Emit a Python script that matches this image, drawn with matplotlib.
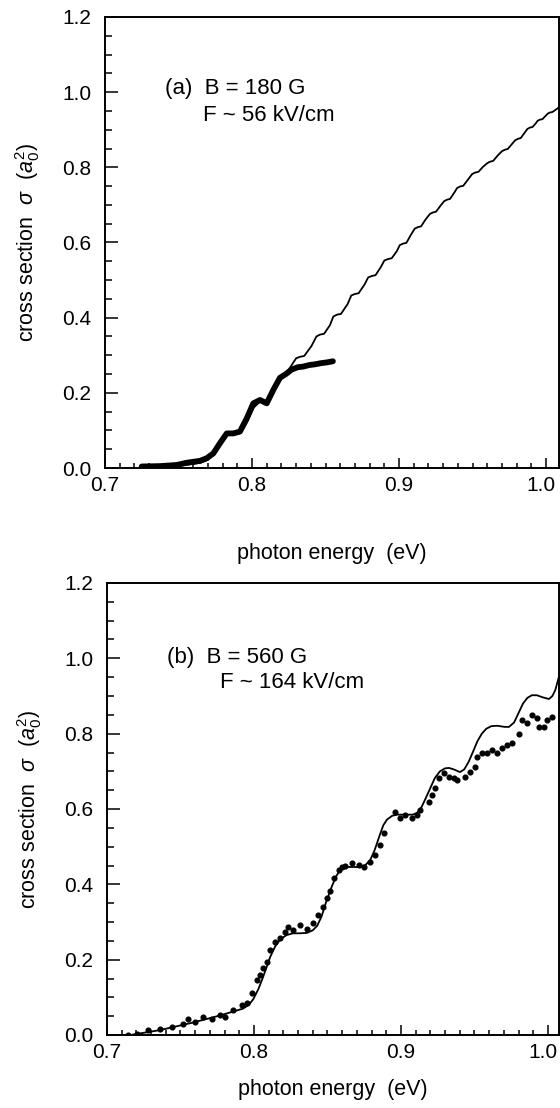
import matplotlib
matplotlib.use("Agg")
import matplotlib.pyplot as plt
import matplotlib.transforms as mtransforms
from matplotlib.ticker import MultipleLocator, FormatStrFormatter

plt.rcParams['font.family'] = ['Liberation Sans', 'DejaVu Sans']
plt.rcParams['mathtext.fontset'] = 'custom'
plt.rcParams['mathtext.rm'] = 'Liberation Sans'
plt.rcParams['mathtext.it'] = 'Liberation Sans:italic'

# ---------------- panel (a) ----------------
theory_a_x = [0.725, 0.740, 0.755, 0.765, 0.770, 0.775, 0.780, 0.784, 0.789, 0.793,
              0.797, 0.801, 0.805, 0.809, 0.813, 0.817, 0.821, 0.825,
              0.830, 0.8327, 0.8355, 0.8405,
              0.8438, 0.8463, 0.849, 0.853,
              0.8553, 0.8578, 0.8605, 0.865,
              0.8675, 0.870, 0.8725, 0.8765,
              0.879, 0.8816, 0.884, 0.8875,
              0.890, 0.8925, 0.895, 0.8985,
              0.9005, 0.9027, 0.905, 0.908,
              0.9107, 0.9129, 0.915, 0.918,
              0.921, 0.9231, 0.9252, 0.928,
              0.9307, 0.9327, 0.9347, 0.9373,
              0.9395, 0.9415, 0.9437, 0.947,
              0.9497, 0.9517, 0.954, 0.957,
              0.960, 0.9619, 0.964, 0.967,
              0.970, 0.9721, 0.974, 0.9768,
              0.979, 0.981, 0.9828, 0.9852,
              0.9873, 0.9891, 0.9907, 0.9928,
              0.9943, 0.9959, 0.9975, 0.9997,
              1.0012, 1.0027, 1.0042, 1.0065, 1.0095]
theory_a_y = [0.001, 0.003, 0.008, 0.014, 0.022, 0.045, 0.075, 0.090, 0.094, 0.098,
              0.125, 0.160, 0.175, 0.178, 0.190, 0.220, 0.245, 0.262,
              0.292, 0.296, 0.298, 0.325,
              0.350, 0.355, 0.357, 0.380,
              0.403, 0.408, 0.410, 0.436,
              0.459, 0.463, 0.465, 0.488,
              0.507, 0.511, 0.513, 0.534,
              0.552, 0.556, 0.558, 0.577,
              0.593, 0.597, 0.599, 0.620,
              0.637, 0.641, 0.643, 0.661,
              0.676, 0.680, 0.682, 0.697,
              0.710, 0.714, 0.716, 0.731,
              0.745, 0.749, 0.751, 0.768,
              0.782, 0.786, 0.788, 0.801,
              0.811, 0.815, 0.817, 0.831,
              0.843, 0.847, 0.849, 0.862,
              0.872, 0.876, 0.878, 0.891,
              0.902, 0.906, 0.907, 0.916,
              0.924, 0.927, 0.928, 0.937,
              0.943, 0.946, 0.947, 0.953, 0.962]

data_a_x = [0.725, 0.7374, 0.7488, 0.7556, 0.7646, 0.7692, 0.7737, 0.7782, 0.7828, 0.7873,
            0.7918, 0.7964, 0.8009, 0.8054, 0.810, 0.8145, 0.819, 0.823, 0.827, 0.831,
            0.835, 0.839, 0.843, 0.847, 0.851, 0.855]
data_a_y = [0.004, 0.005, 0.008, 0.014, 0.019, 0.026, 0.039, 0.066, 0.092, 0.092,
            0.097, 0.132, 0.172, 0.181, 0.172, 0.208, 0.240, 0.250, 0.262, 0.268,
            0.270, 0.274, 0.276, 0.279, 0.281, 0.284]

# ---------------- panel (b) ----------------
theory_b_x = [0.716, 0.736, 0.7585, 0.777, 0.7925, 0.7965, 0.7995, 0.803, 0.806, 0.811,
              0.8145, 0.818, 0.822, 0.8265, 0.831, 0.836, 0.840, 0.843, 0.846, 0.849,
              0.853, 0.856, 0.859, 0.863, 0.8667, 0.8721, 0.876, 0.879, 0.882, 0.8855,
              0.888, 0.8905, 0.894, 0.8973, 0.903, 0.908, 0.911, 0.914, 0.917, 0.920,
              0.923, 0.9265, 0.930, 0.9327, 0.936, 0.9401, 0.943, 0.946, 0.949, 0.952,
              0.955, 0.958, 0.9615, 0.9655, 0.9705, 0.9735, 0.977, 0.980, 0.983, 0.986,
              0.989, 0.9925, 0.996, 1.0007, 1.003, 1.005, 1.0075]
theory_b_y = [0.0, 0.013, 0.033, 0.052, 0.070, 0.080, 0.095, 0.122, 0.152, 0.207,
              0.236, 0.254, 0.265, 0.270, 0.270, 0.271, 0.278, 0.290, 0.315, 0.352,
              0.395, 0.422, 0.440, 0.446, 0.446, 0.446, 0.452, 0.464, 0.490, 0.530,
              0.557, 0.572, 0.582, 0.585, 0.585, 0.585, 0.590, 0.605, 0.630, 0.656,
              0.682, 0.700, 0.708, 0.709, 0.705, 0.698, 0.705, 0.725, 0.752, 0.780,
              0.800, 0.813, 0.820, 0.821, 0.818, 0.818, 0.830, 0.855, 0.880, 0.895,
              0.902, 0.902, 0.897, 0.892, 0.900, 0.916, 0.952]

data_b_x = [0.714, 0.7201, 0.7281, 0.7361, 0.744, 0.7519, 0.7553, 0.7599, 0.7655, 0.7712,
            0.777, 0.7803, 0.786, 0.7917, 0.7951, 0.7985, 0.8019, 0.8041, 0.8063, 0.8086,
            0.8109, 0.8143, 0.8177, 0.8211, 0.8234, 0.8268, 0.8313, 0.8358, 0.8404, 0.8438,
            0.8472, 0.8494, 0.8517, 0.8541, 0.8576, 0.8599, 0.862, 0.8667, 0.8712, 0.8747,
            0.8790, 0.8825, 0.886, 0.8882, 0.8961, 0.8995, 0.903, 0.9075, 0.9109, 0.9132,
            0.9188, 0.9211, 0.9234, 0.9256, 0.929, 0.9324, 0.9358, 0.9381, 0.9437, 0.9471,
            0.9505, 0.9517, 0.955, 0.9585, 0.9619, 0.9653, 0.9687, 0.9721, 0.9755, 0.980,
            0.9823, 0.9857, 0.9891, 0.9925, 0.9937, 0.997, 0.9993, 1.0027]
data_b_y = [0.0, 0.003, 0.013, 0.015, 0.022, 0.029, 0.042, 0.035, 0.047, 0.042,
            0.053, 0.047, 0.066, 0.080, 0.086, 0.111, 0.146, 0.159, 0.177, 0.195,
            0.226, 0.248, 0.257, 0.274, 0.288, 0.279, 0.292, 0.281, 0.297, 0.319,
            0.341, 0.363, 0.381, 0.416, 0.438, 0.447, 0.449, 0.457, 0.451, 0.446,
            0.460, 0.478, 0.504, 0.535, 0.593, 0.575, 0.584, 0.575, 0.584, 0.597,
            0.619, 0.637, 0.655, 0.682, 0.695, 0.686, 0.682, 0.677, 0.686, 0.699,
            0.712, 0.739, 0.748, 0.748, 0.757, 0.748, 0.761, 0.770, 0.774, 0.800,
            0.836, 0.827, 0.850, 0.841, 0.818, 0.818, 0.836, 0.845]

x_ticks = [0.7, 0.8, 0.9, 1.0]
y_ticks = [0.0, 0.2, 0.4, 0.6, 0.8, 1.0, 1.2]
label_a = ["(a)  B = 180 G", "F ~ 56 kV/cm"]
label_b = ["(b)  B = 560 G", "F ~ 164 kV/cm"]
xlabel = "photon energy  (eV)"
ylabel = r"cross section  $\sigma$  $(a_0^2)$"

W, H = 560, 1108
fig = plt.figure(figsize=(W / 100, H / 100), dpi=100)

def frac(l, t, r, b):
    return [l / W, 1 - b / H, (r - l) / W, (b - t) / H]

ax_a = fig.add_axes(frac(105, 17, 559, 468))
ax_b = fig.add_axes(frac(107, 583, 559, 1035))

def style(ax, xmax, xpad):
    ax.set_xlim(0.7, xmax)
    ax.set_ylim(0.0, 1.2)
    ax.set_xticks(x_ticks)
    ax.set_yticks(y_ticks)
    ax.xaxis.set_minor_locator(MultipleLocator(0.01))
    ax.yaxis.set_minor_locator(MultipleLocator(0.05))
    ax.xaxis.set_major_formatter(FormatStrFormatter('%.1f'))
    ax.yaxis.set_major_formatter(FormatStrFormatter('%.1f'))
    ax.tick_params(axis='both', which='both', direction='in', top=False, right=False,
                   width=1.1, labelsize=15, colors='black')
    ax.tick_params(axis='x', which='major', length=7, pad=6)
    ax.tick_params(axis='x', which='minor', length=3.5)
    ax.tick_params(axis='y', which='major', length=9, pad=10)
    ax.tick_params(axis='y', which='minor', length=5)
    for s in ax.spines.values():
        s.set_linewidth(1.4)
    ax.set_xlabel(xlabel, fontsize=15.5, labelpad=xpad)
    ax.set_ylabel(ylabel, fontsize=15.5, labelpad=14)
    # nudge the last x tick label so it stays inside the picture
    fig.canvas.draw()
    lbls = ax.get_xticklabels()
    shift = mtransforms.ScaledTranslation(-5 / 100, 0, fig.dpi_scale_trans)
    lbls[-1].set_transform(lbls[-1].get_transform() + shift)

style(ax_a, 1.0088, 34)
style(ax_b, 1.0075, 12)

ax_a.plot(theory_a_x, theory_a_y, color='black', lw=1.3, zorder=2)
ax_a.plot(data_a_x, data_a_y, color='black', lw=4.2, solid_capstyle='round', zorder=3)
ax_a.text(0.7408, 1.011, label_a[0], fontsize=16, va='center', ha='left')
ax_a.text(0.7667, 0.939, label_a[1], fontsize=16, va='center', ha='left')

ax_b.plot(theory_b_x, theory_b_y, color='black', lw=1.3, zorder=2)
ax_b.plot(data_b_x, data_b_y, linestyle='none', marker='o', markersize=3.4,
          color='black', zorder=3)
ax_b.text(0.7408, 1.003, label_b[0], fontsize=16, va='center', ha='left')
ax_b.text(0.7766, 0.937, label_b[1], fontsize=16, va='center', ha='left')

fig.savefig("out.png", dpi=100, facecolor='white')
